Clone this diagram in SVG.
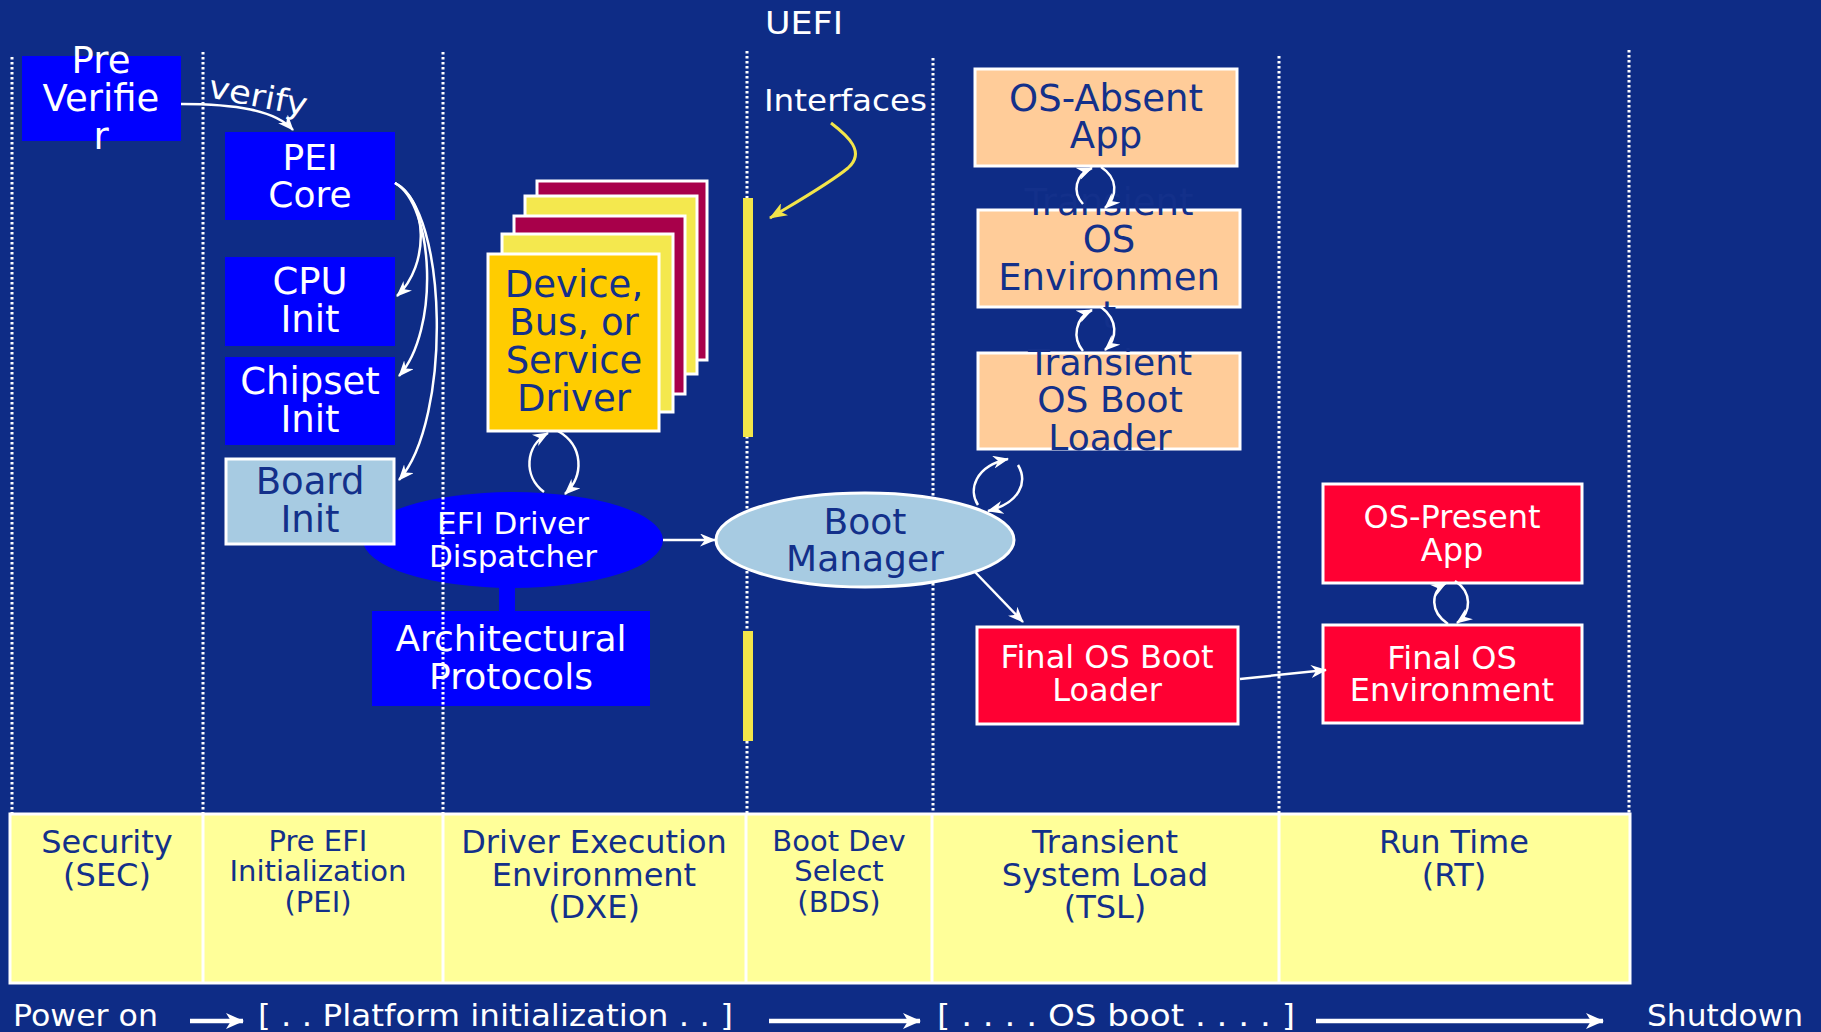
<svg xmlns="http://www.w3.org/2000/svg" width="1821" height="1032" viewBox="0 0 1821 1032">
  <defs>
    <style>
      text { font-family: "DejaVu Sans", Verdana, sans-serif; text-anchor: middle; }
      .w { fill: #ffffff; }
      .n { fill: #13308a; }
      .blue { fill: #0000ff; }
      .boxw { stroke: #ffffff; stroke-width: 3; }
      .orange { fill: #ffcc99; stroke: #ffffff; stroke-width: 3; }
      .red { fill: #ff0033; stroke: #ffffff; stroke-width: 3; }
      .lb { fill: #a7cbe2; stroke: #ffffff; stroke-width: 3; }
      .dot { stroke: #ffffff; stroke-width: 3; stroke-dasharray: 2.5 2.5; fill: none; }
      .con { fill: none; stroke: #ffffff; stroke-width: 2.5; marker-end: url(#barb); }
      .big { fill: none; stroke: #ffffff; stroke-width: 4.5; marker-end: url(#barbBig); }
      .div { stroke: #ffffff; stroke-width: 3; }
    </style>
    <marker id="barb" viewBox="0 0 16 13" refX="15" refY="6.5" markerWidth="16" markerHeight="13" markerUnits="userSpaceOnUse" orient="auto">
      <path d="M0,0 L16,6.5 L0,13 L5,6.5 z" fill="#ffffff"/>
    </marker>
    <marker id="barbBig" viewBox="0 0 18 16" refX="17" refY="8" markerWidth="18" markerHeight="16" markerUnits="userSpaceOnUse" orient="auto">
      <path d="M0,0 L18,8 L0,16 L5,8 z" fill="#ffffff"/>
    </marker>
    <marker id="barbY" viewBox="0 0 18 14" refX="17" refY="7" markerWidth="18" markerHeight="14" markerUnits="userSpaceOnUse" orient="auto">
      <path d="M0,0 L18,7 L0,14 L5,7 z" fill="#f2e54a"/>
    </marker>
  </defs>

  <!-- backdrop -->
  <rect x="0" y="0" width="1821" height="1032" fill="#0e2c86"/>

  <!-- phase band -->
  <g id="phases">
    <rect x="10" y="814" width="1620" height="169" fill="#ffff99" stroke="#ffffff" stroke-width="3"/>
    <line class="div" x1="203" y1="814" x2="203" y2="983"/>
    <line class="div" x1="443" y1="814" x2="443" y2="983"/>
    <line class="div" x1="746" y1="814" x2="746" y2="983"/>
    <line class="div" x1="932" y1="814" x2="932" y2="983"/>
    <line class="div" x1="1279" y1="814" x2="1279" y2="983"/>
    <g class="n" font-size="32">
      <text x="107" y="853">Security</text>
      <text x="107" y="886">(SEC)</text>
      <text x="594" y="853">Driver Execution</text>
      <text x="594" y="886">Environment</text>
      <text x="594" y="918">(DXE)</text>
      <text x="1105" y="853">Transient</text>
      <text x="1105" y="886">System Load</text>
      <text x="1105" y="918">(TSL)</text>
      <text x="1454" y="853">Run Time</text>
      <text x="1454" y="886">(RT)</text>
    </g>
    <g class="n" font-size="29">
      <text x="318" y="851">Pre EFI</text>
      <text x="318" y="881">Initialization</text>
      <text x="318" y="912">(PEI)</text>
      <text x="839" y="851">Boot Dev</text>
      <text x="839" y="881">Select</text>
      <text x="839" y="912">(BDS)</text>
    </g>
  </g>

  <!-- DXE dispatcher and its architectural protocols -->
  <g id="dispatcher">
    <ellipse cx="513" cy="540" rx="150" ry="48" class="blue"/>
    <text class="w" font-size="31" x="513" y="534">EFI Driver</text>
    <text class="w" font-size="31" x="513" y="567">Dispatcher</text>
  </g>
  <g id="protocols">
    <rect x="499" y="585" width="16" height="28" class="blue"/>
    <rect x="372" y="611" width="278" height="95" class="blue"/>
    <text class="w" font-size="36" x="511" y="651">Architectural</text>
    <text class="w" font-size="36" x="511" y="689">Protocols</text>
  </g>

  <!-- phase separators -->
  <g id="separators">
    <line class="dot" x1="12" y1="57" x2="12" y2="813"/>
    <line class="dot" x1="203" y1="52" x2="203" y2="813"/>
    <line class="dot" x1="443" y1="52" x2="443" y2="813"/>
    <line class="dot" x1="747" y1="51" x2="747" y2="813"/>
    <line class="dot" x1="933" y1="58" x2="933" y2="813"/>
    <line class="dot" x1="1279" y1="56" x2="1279" y2="813"/>
    <line class="dot" x1="1629" y1="50" x2="1629" y2="813"/>
  </g>

  <text id="title" class="w" font-size="32" x="765" y="34" style="text-anchor:start" textLength="78" lengthAdjust="spacingAndGlyphs">UEFI</text>

  <!-- SEC -->
  <g id="pre-verifier">
    <rect x="22" y="56" width="159" height="85" class="blue"/>
    <text class="w" font-size="37" x="101" y="73">Pre</text>
    <text class="w" font-size="37" x="101" y="111">Verifie</text>
    <text class="w" font-size="37" x="101" y="149">r</text>
  </g>

  <!-- PEI -->
  <g id="pei-core">
    <rect x="225" y="132" width="170" height="88" class="blue"/>
    <text class="w" font-size="36" x="310" y="170">PEI</text>
    <text class="w" font-size="36" x="310" y="207">Core</text>
  </g>
  <g id="cpu-init">
    <rect x="225" y="257" width="170" height="89" class="blue"/>
    <text class="w" font-size="37" x="310" y="294">CPU</text>
    <text class="w" font-size="37" x="310" y="332">Init</text>
  </g>
  <g id="chipset-init">
    <rect x="225" y="357" width="170" height="88" class="blue"/>
    <text class="w" font-size="37" x="310" y="394">Chipset</text>
    <text class="w" font-size="37" x="310" y="432">Init</text>
  </g>
  <g id="board-init">
    <rect x="226" y="459" width="168" height="85" class="lb"/>
    <text class="n" font-size="37" x="310" y="494">Board</text>
    <text class="n" font-size="37" x="310" y="532">Init</text>
  </g>

  <!-- DXE drivers -->
  <g id="drivers">
    <rect x="537" y="181" width="170" height="179" fill="#a8004a" class="boxw"/>
    <rect x="525" y="196" width="172" height="178" fill="#f4e84e" class="boxw"/>
    <rect x="514" y="216" width="171" height="178" fill="#a8004a" class="boxw"/>
    <rect x="502" y="234" width="171" height="178" fill="#f4e84e" class="boxw"/>
    <rect x="488" y="254" width="171" height="177" fill="#ffcc00" class="boxw"/>
    <text class="n" font-size="37" x="574" y="297">Device,</text>
    <text class="n" font-size="37" x="574" y="335">Bus, or</text>
    <text class="n" font-size="37" x="574" y="373">Service</text>
    <text class="n" font-size="37" x="574" y="411">Driver</text>
  </g>

  <!-- BDS interfaces -->
  <g id="interfaces">
    <rect x="743" y="198" width="10" height="239" fill="#f2e54a"/>
    <rect x="743" y="631" width="10" height="110" fill="#f2e54a"/>
    <text class="w" font-size="31" x="764" y="111" style="text-anchor:start" textLength="163" lengthAdjust="spacingAndGlyphs">Interfaces</text>
    <path d="M831,123 C848,136 866,152 848,168 C830,183 800,200 770,218" fill="none" stroke="#f2e54a" stroke-width="3" marker-end="url(#barbY)"/>
  </g>

  <g id="boot-manager">
    <ellipse cx="865" cy="540" rx="149" ry="47" class="lb"/>
    <text class="n" font-size="36" x="865" y="534">Boot</text>
    <text class="n" font-size="36" x="865" y="571">Manager</text>
  </g>

  <!-- TSL -->
  <g id="os-absent-app">
    <rect x="975" y="69" width="262" height="97" class="orange"/>
    <text class="n" font-size="37" x="1106" y="111">OS-Absent</text>
    <text class="n" font-size="37" x="1106" y="148">App</text>
  </g>
  <g id="transient-os-env">
    <rect x="978" y="210" width="262" height="97" class="orange"/>
    <text class="n" font-size="37" x="1109" y="215">Transient</text>
    <text class="n" font-size="37" x="1109" y="252">OS</text>
    <text class="n" font-size="37" x="1109" y="290">Environmen</text>
    <text class="n" font-size="37" x="1109" y="328">t</text>
  </g>
  <g id="transient-os-loader">
    <rect x="978" y="353" width="262" height="96" class="orange"/>
    <text class="n" font-size="36" x="1110" y="375">Transient</text>
    <text class="n" font-size="36" x="1110" y="412">OS Boot</text>
    <text class="n" font-size="36" x="1110" y="450">Loader</text>
  </g>
  <g id="final-os-loader">
    <rect x="977" y="627" width="261" height="97" class="red"/>
    <text class="w" font-size="32" x="1107" y="668">Final OS Boot</text>
    <text class="w" font-size="32" x="1107" y="701">Loader</text>
  </g>

  <!-- RT -->
  <g id="os-present-app">
    <rect x="1323" y="484" width="259" height="99" class="red"/>
    <text class="w" font-size="32" x="1452" y="528">OS-Present</text>
    <text class="w" font-size="32" x="1452" y="561">App</text>
  </g>
  <g id="final-os-env">
    <rect x="1323" y="625" width="259" height="98" class="red"/>
    <text class="w" font-size="32" x="1452" y="669">Final OS</text>
    <text class="w" font-size="32" x="1452" y="701">Environment</text>
  </g>

  <!-- connectors -->
  <g id="connectors">
    <path class="con" d="M181,104 C235,104 275,110 293,130"/>
    <text class="w" font-size="32" x="207" y="97" style="text-anchor:start" transform="rotate(11 207 97)" textLength="100" lengthAdjust="spacingAndGlyphs">verify</text>
    <path class="con" d="M395,183 C428,200 430,265 397,296"/>
    <path class="con" d="M395,183 C434,205 440,330 399,376"/>
    <path class="con" d="M395,183 C448,210 452,420 399,480"/>
    <path class="con" d="M544,492 C523,476 525,446 548,433"/>
    <path class="con" d="M558,431 C584,446 584,476 565,494"/>
    <path class="con" d="M663,540 L715,540"/>
    <path class="con" d="M978,505 C968,490 975,466 1008,459"/>
    <path class="con" d="M1018,465 C1028,482 1020,503 988,511"/>
    <path class="con" d="M1083,204 C1072,192 1075,175 1092,168"/>
    <path class="con" d="M1101,167 C1118,178 1118,196 1105,208"/>
    <path class="con" d="M1083,351 C1072,338 1075,318 1092,310"/>
    <path class="con" d="M1101,307 C1118,320 1118,338 1105,350"/>
    <path class="con" d="M975,572 L1023,622"/>
    <path class="con" d="M1240,679 L1326,670"/>
    <path class="con" d="M1448,624 C1430,612 1430,592 1446,583"/>
    <path class="con" d="M1455,581 C1472,592 1472,612 1457,623"/>
    <path class="big" d="M190,1021 L243,1021"/>
    <path class="big" d="M769,1021 L920,1021"/>
    <path class="big" d="M1316,1021 L1603,1021"/>
  </g>

  <!-- timeline captions -->
  <g id="timeline" class="w" font-size="30">
    <text x="13" y="1026" style="text-anchor:start" textLength="145" lengthAdjust="spacingAndGlyphs">Power on</text>
    <text x="258" y="1026" style="text-anchor:start" textLength="475" lengthAdjust="spacingAndGlyphs">[ . . Platform initialization . . ]</text>
    <text x="937" y="1026" style="text-anchor:start" textLength="358" lengthAdjust="spacingAndGlyphs">[ . . . . OS boot . . . . ]</text>
    <text x="1647" y="1026" style="text-anchor:start" textLength="156" lengthAdjust="spacingAndGlyphs">Shutdown</text>
  </g>
</svg>
